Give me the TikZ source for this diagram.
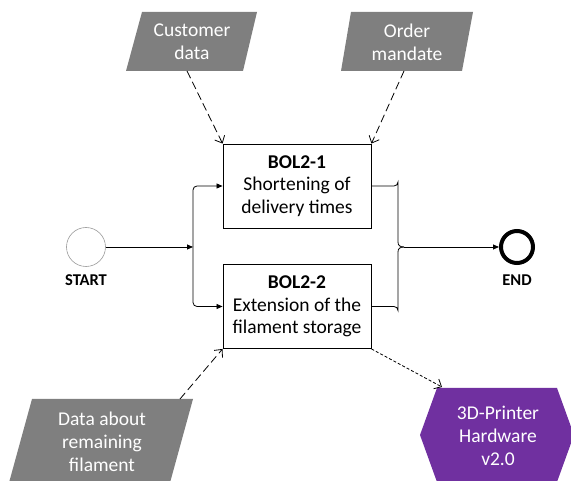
\documentclass[tikz,border=0pt]{standalone}
\usepackage{fontspec}
\setmainfont{Carlito}
\usetikzlibrary{arrows.meta}
\definecolor{dgray}{HTML}{7F7F7F}
\definecolor{dpurple}{HTML}{7030A0}
\begin{document}
\begin{tikzpicture}[x=1pt,y=-1pt,
  txt/.style={font=\fontsize{19.5}{22.7}\selectfont,align=center,inner sep=0pt},
  wtxt/.style={txt,text=white},
  taskbox/.style={draw,line width=0.9pt,minimum width=148pt,minimum height=84pt,txt},
  lbl/.style={font=\fontsize{16.5}{18}\selectfont\bfseries,inner sep=0pt},
  flow/.style={line width=0.8pt,-{Triangle[length=6pt,width=5pt]}},
  plain/.style={line width=0.8pt},
  info/.style={line width=0.8pt,dash pattern=on 8pt off 4pt,-{Straight Barb[length=6pt,width=11pt]}},
  dotinfo/.style={line width=0.8pt,dash pattern=on 3pt off 2pt,-{Straight Barb[length=6pt,width=11pt]}}]
\useasboundingbox (0,0) rectangle (571,481);
\clip (0,0) rectangle (571,481);
% data shapes
\fill[dgray] (142,12) -- (257,12) -- (243,71) -- (126,71) -- cycle;
\fill[dgray] (351,12) -- (473,12) -- (462,71) -- (341,71) -- cycle;
\fill[dgray] (32,399) -- (193,399) -- (168,490) -- (7,490) -- cycle;
\fill[dpurple] (437,388) -- (557,388) -- (574,435) -- (557,482) -- (437,482) -- (420,435) -- cycle;
\node[wtxt] (cd) at (192,42) {Customer\\data};
\node[wtxt] (om) at (407,42) {Order\\mandate};
\node[wtxt] (df) at (102,442) {Data about\\remaining\\filament};
\node[wtxt] (hw) at (498,436) {3D-Printer\\Hardware\\v2.0};
\coordinate (cdout) at (187,71);
\coordinate (omout) at (404,71);
\coordinate (dfout) at (180,399);
\coordinate (hwin) at (442,387);
% tasks
\node[taskbox] (b1) at (297,186) {\textbf{BOL2-1}\\Shortening of\\delivery times};
\node[taskbox] (b2) at (297,306.5) {\textbf{BOL2-2}\\Extension of the\\filament storage};
% events
\node[circle,draw=black!40,line width=0.6pt,minimum size=39pt,inner sep=0pt] (start) at (86,247) {};
\node[circle,draw,line width=4pt,minimum size=32pt,inner sep=0pt] (end) at (517,247) {};
\node[lbl] (startl) at (86,280) {START};
\node[lbl] (endl) at (517,280) {END};
% flows
\coordinate (split) at (193,247);
\coordinate (join) at (404,247);
\draw[flow] (start) -- (split);
\draw[flow,rounded corners=4pt] (split) |- (b1.west);
\draw[flow,rounded corners=4pt] (split) |- (b2.west);
\draw[plain] (b1.east) -- (394,186) arc[start angle=90,end angle=0,radius=4] -- (398,242) .. controls (398,245.5) and (400,247) .. (join);
\draw[plain] (b2.east) -- (394,306.5) arc[start angle=-90,end angle=0,radius=4] -- (398,252) .. controls (398,248.5) and (400,247) .. (join);
\draw[flow] (join) -- (end);
% information
\draw[info] (cdout) -- (b1.north west);
\draw[info] (omout) -- (b1.north east);
\draw[info] (dfout) -- (b2.south west);
\draw[dotinfo] (b2.south east) -- (hwin);
\end{tikzpicture}
\end{document}
